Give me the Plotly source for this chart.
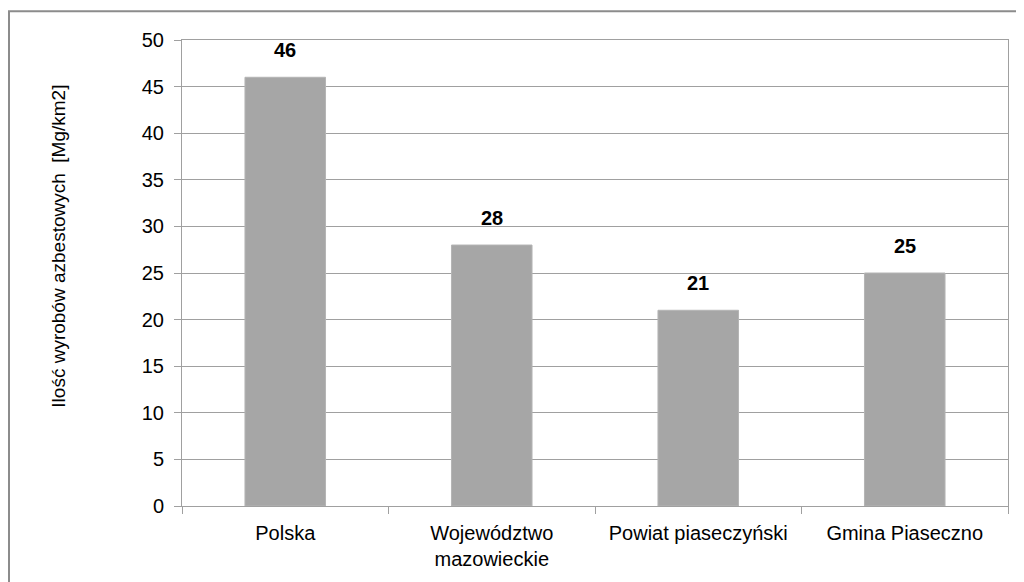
import plotly.graph_objects as go

categories = ["Polska", "Województwo<br>mazowieckie", "Powiat piaseczyński", "Gmina Piaseczno"]
values = [46, 28, 21, 25]
y_ticks = [0, 5, 10, 15, 20, 25, 30, 35, 40, 45, 50]
y_title = "Ilość wyrobów azbestowych  [Mg/km2]"

FONT = "Liberation Sans, Arial, sans-serif"
GRID = "#a0a0a0"

# page has an 8px body margin, so the figure is drawn at (8, 8)
L, T, W, H = 174, 32, 826, 469

fig = go.Figure()
fig.add_trace(go.Bar(
    x=categories, y=values,
    marker=dict(color="#a6a6a6", line=dict(color="#b4b4b4", width=1)),
    width=0.39,
    hoverinfo="x+y",
))

for c, v in zip(categories, values):
    fig.add_annotation(x=c, y=v, text=f"<b>{v}</b>", showarrow=False,
                       yanchor="bottom", yshift=14,
                       font=dict(family=FONT, size=20, color="#000000"))

# title centred at page pixel (59, 248) -> figure pixel (51, 240)
fig.add_annotation(xref="paper", yref="paper", x=(51 - L) / W, y=(T + H - 240) / H,
                   xanchor="center", yanchor="middle",
                   text=y_title, textangle=-90, showarrow=False,
                   font=dict(family=FONT, size=19, color="#000000"))

# outer border
fig.add_shape(type="rect", xref="paper", yref="paper",
              x0=(1 - L) / W, x1=(1040 - L) / W,
              y0=(T + H - 600) / H, y1=(T + H - 3) / H,
              line=dict(color="#8c8c8c", width=2), fillcolor="rgba(0,0,0,0)", layer="above")

fig.update_layout(
    width=1016, height=574,
    margin=dict(l=L, r=1016 - L - W, t=T, b=574 - T - H),
    paper_bgcolor="white", plot_bgcolor="white",
    font=dict(family=FONT, size=20, color="#000000"),
    showlegend=False,
    xaxis=dict(
        type="category", tickson="boundaries", ticks="outside", ticklen=7,
        tickcolor=GRID, tickwidth=1,
        showline=True, linecolor=GRID, linewidth=1, mirror=True,
        showgrid=False, tickfont=dict(family=FONT, size=20, color="#000000"),
        ticklabelstandoff=9,
    ),
    yaxis=dict(
        range=[0, 50], tickvals=y_ticks, ticks="outside", ticklen=7,
        tickcolor=GRID, tickwidth=1,
        showline=True, linecolor=GRID, linewidth=1, mirror=True,
        showgrid=True, gridcolor=GRID, gridwidth=1, zeroline=False,
        tickfont=dict(family=FONT, size=20, color="#000000"),
        ticklabelstandoff=6,
    ),
)

fig.write_html("out.html")
